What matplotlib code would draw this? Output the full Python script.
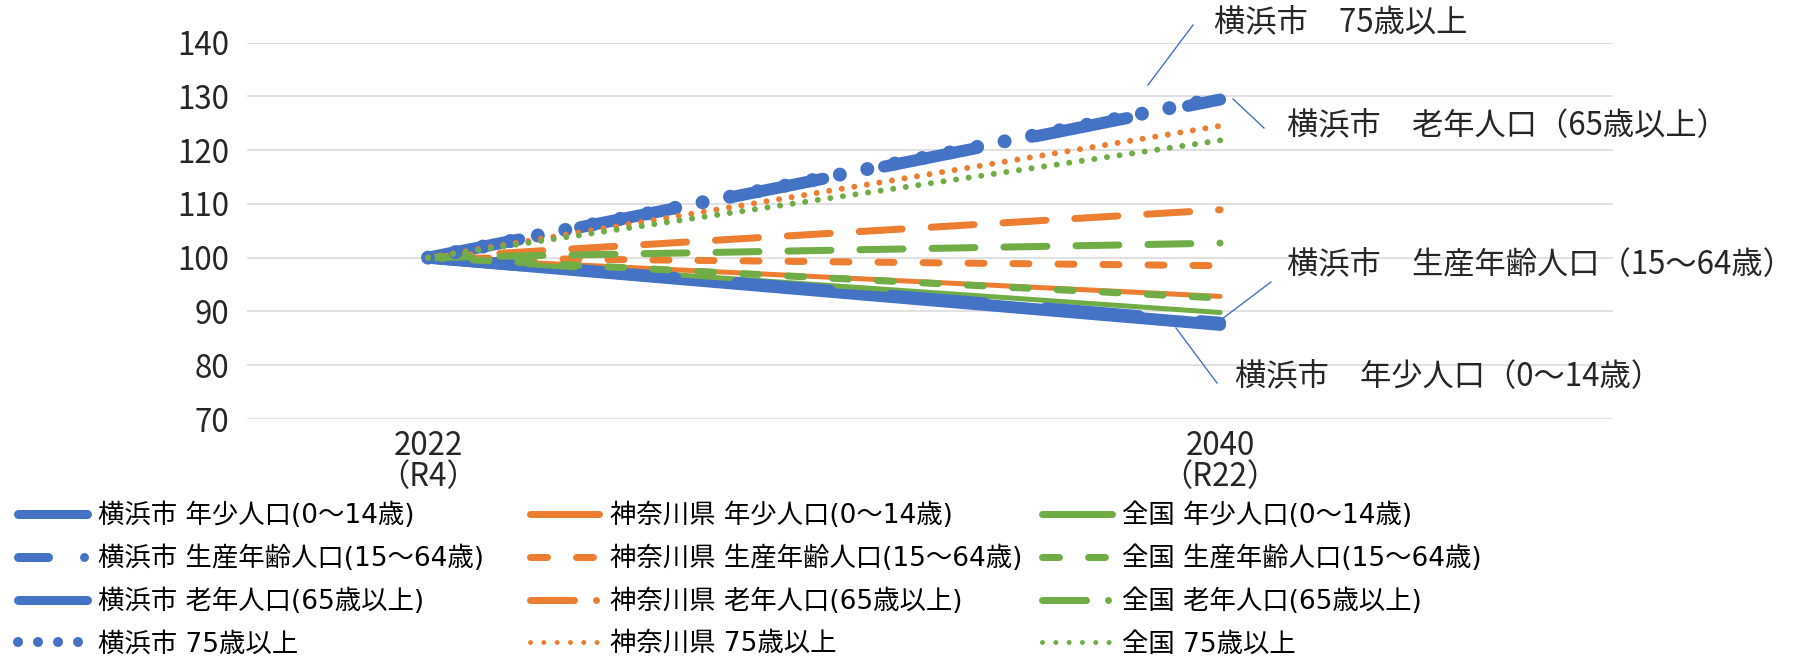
import numpy as np
import matplotlib
matplotlib.use('Agg')
import matplotlib.pyplot as plt
from matplotlib.lines import Line2D

plt.rcParams['font.family'] = ['Noto Sans CJK JP', 'DejaVu Sans']
plt.rcParams['lines.scale_dashes'] = False

# data (index, 2022 = 100)
years = ['2022\n（R4）', '2040\n（R22）']
yokohama_young = [100, 87.5]
yokohama_work = [100, 87.9]
yokohama_old = [100, 129.4]
yokohama_75 = [100, 129.7]
kanagawa_young = [100, 92.8]
kanagawa_work = [100, 98.5]
kanagawa_old = [100, 108.9]
kanagawa_75 = [100, 124.5]
zenkoku_young = [100, 89.8]
zenkoku_work = [100, 92.5]
zenkoku_old = [100, 102.7]
zenkoku_75 = [100, 121.8]

yokohama_labels = ['横浜市 年少人口(0～14歳)', '横浜市 生産年齢人口(15～64歳)',
                   '横浜市 老年人口(65歳以上)', '横浜市 75歳以上']
kanagawa_labels = ['神奈川県 年少人口(0～14歳)', '神奈川県 生産年齢人口(15～64歳)',
                   '神奈川県 老年人口(65歳以上)', '神奈川県 75歳以上']
zenkoku_labels = ['全国 年少人口(0～14歳)', '全国 生産年齢人口(15～64歳)',
                  '全国 老年人口(65歳以上)', '全国 75歳以上']

callouts = ['横浜市　75歳以上', '横浜市　老年人口（65歳以上）',
            '横浜市　生産年齢人口（15～64歳）', '横浜市　年少人口（0～14歳）']

BLUE, ORANGE, GREEN = '#4472C4', '#ED7D31', '#70AD47'
W, H = 1800, 661
PT = 0.72  # points per pixel at dpi 100


def pts(seq):
    if seq is None:
        return None
    return tuple(v * PT for v in seq)


# style per group: (chart lw px, chart dashes px, legend lw px, legend dashes px)
big = [(12, None, 9, None), (12, (93, 62), 9, (30, 36, 0.01, 40)),
       (12, (93, 62), 9, None), (14, (0.01, 28), 10, (0.01, 20))]
small = [(5, None, 7, None), (7, (16, 29), 7, (17, 29)),
         (7, (43, 29), 7, (44, 22, 0.01, 30)), (6, (0.01, 12.7), 5, (0.01, 13.3))]

groups = [
    (BLUE, [yokohama_young, yokohama_work, yokohama_old, yokohama_75], yokohama_labels, big),
    (ORANGE, [kanagawa_young, kanagawa_work, kanagawa_old, kanagawa_75], kanagawa_labels, small),
    (GREEN, [zenkoku_young, zenkoku_work, zenkoku_old, zenkoku_75], zenkoku_labels, small),
]

fig = plt.figure(figsize=(W / 100, H / 100), dpi=100)
left, right, top, bottom = 247, 1613, 42.5, 419
ax = fig.add_axes([left / W, 1 - bottom / H, (right - left) / W, (bottom - top) / H])

x = np.arange(len(years))

# draw in row order (age group first, then region) like the source chart
for k in range(4):
    for color, data, labels, styles in groups:
        lw, dash, _, _ = styles[k]
        line, = ax.plot(x, data[k], color=color, lw=lw * PT,
                        solid_capstyle='round', dash_capstyle='round')
        if dash is not None:
            line.set_dashes(pts(dash))

ax.set_xlim(-0.2285, 1.496)
ax.set_ylim(70, 140)
ax.set_yticks(np.arange(70, 141, 10))
ax.set_xticks(x)
ax.set_xticklabels(years, linespacing=0.95)
ax.yaxis.grid(True, color='#d9d9d9', lw=1.1)
ax.set_axisbelow(True)
for s in ax.spines.values():
    s.set_visible(False)
ax.tick_params(axis='both', length=0, labelsize=22.5, colors='#262626')
ax.tick_params(axis='y', pad=13)
ax.tick_params(axis='x', pad=8)

# legend: three equal-width columns
leg_x = [17.5, 529.5, 1042]
leg_font = {'family': ['DejaVu Sans', 'Noto Sans CJK JP'], 'size': 19}
for (color, data, labels, styles), lx in zip(groups, leg_x):
    handles = []
    for k in range(4):
        _, _, llw, ldash = styles[k]
        h = Line2D([0], [0], color=color, lw=llw * PT,
                   solid_capstyle='round', dash_capstyle='round')
        if ldash is not None:
            h.set_dashes(pts(ldash))
        handles.append(h)
    fig.legend(handles, labels, loc='center left',
               bbox_to_anchor=(lx / W, 1 - 580 / H), frameon=False,
               prop=leg_font, handlelength=2.65, handletextpad=0.4,
               labelspacing=0.62, borderpad=0, borderaxespad=0)

# callout labels with leader lines
text_pos = [(1214, 22), (1287, 126), (1287, 265), (1235, 377)]
leaders = [((1193, 25), (1148, 85)), ((1233, 99), (1264, 128)),
           ((1271, 282), (1222, 319)), ((1176, 328), (1217, 383))]
for txt, (tx, ty), (p0, p1) in zip(callouts, text_pos, leaders):
    fig.text(tx / W, 1 - ty / H, txt, fontsize=22.5, color='#262626',
             ha='left', va='center')
    fig.add_artist(Line2D([p0[0] / W, p1[0] / W], [1 - p0[1] / H, 1 - p1[1] / H],
                          transform=fig.transFigure, color=BLUE, lw=1.0))

fig.savefig('out.png', dpi=100)
